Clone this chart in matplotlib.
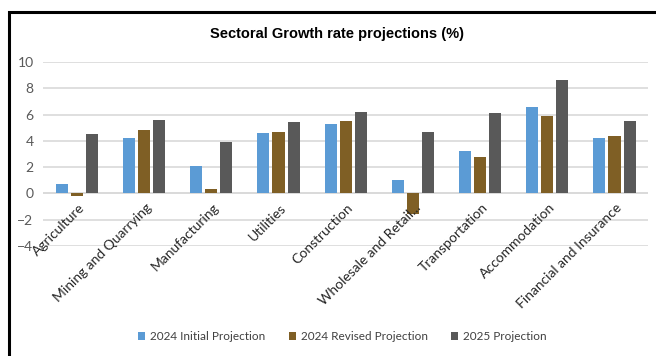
import matplotlib.pyplot as plt
import numpy as np
from matplotlib.patches import Rectangle

sectors = ["Agriculture", "Mining and Quarrying", "Manufacturing", "Utilities",
           "Construction", "Wholesale and Retail...", "Transportation",
           "Accommodation", "Financial and Insurance"]
initial_2024 = [0.7, 4.2, 2.1, 4.6, 5.3, 1.0, 3.2, 6.6, 4.2]
revised_2024 = [-0.2, 4.8, 0.3, 4.7, 5.5, -1.6, 2.8, 5.9, 4.4]
proj_2025 = [4.5, 5.6, 3.9, 5.4, 6.2, 4.7, 6.1, 8.6, 5.5]
series_names = ["2024 Initial Projection", "2024 Revised Projection", "2025 Projection"]
colors = ["#5B9BD5", "#7F5F25", "#595959"]

plt.rcParams["font.family"] = ["Lato", "DejaVu Sans"]

fig = plt.figure(figsize=(6.56, 3.56), dpi=100)
ax = fig.add_axes([0.066, 0.309, 0.922, 0.517])

x = np.arange(len(sectors))
w = 0.18
step = 0.225
for k, vals in enumerate([initial_2024, revised_2024, proj_2025]):
    ax.bar(x + (k - 1) * step, vals, width=w, color=colors[k],
           label=series_names[k], zorder=3)

ax.set_xlim(-0.5, len(sectors) - 0.5)
ax.set_ylim(-4, 10)
ax.set_yticks(range(-4, 11, 2))
ax.tick_params(axis="y", length=0, labelsize=10, labelcolor="#595959", pad=7)
ax.set_xticks([])
ax.grid(axis="y", color="#D9D9D9", linewidth=1.2, zorder=0)
ax.axhline(0, color="#D9D9D9", linewidth=1.2, zorder=1)
for s in ax.spines.values():
    s.set_visible(False)

for i, name in enumerate(sectors):
    ax.text(i + 0.02, -0.6, name, rotation=45, ha="right", va="top",
            rotation_mode="anchor", fontsize=10, color="#262626")

fig.text(0.513, 0.905, "Sectoral Growth rate projections (%)", ha="center",
         va="center", fontsize=10.5, fontweight="bold",
         family=["Liberation Sans", "DejaVu Sans"])

fig.legend(loc="center", bbox_to_anchor=(0.522, 0.055), ncol=3, frameon=False,
           handlelength=0.6, handleheight=0.6, columnspacing=2.0,
           handletextpad=0.4, labelcolor="#404040",
           prop={"family": ["Lato", "DejaVu Sans"], "size": 8.5})

# outer frame of the original screenshot
fig.patches.append(Rectangle((0.0135, -0.1), 1.1, 1.065, transform=fig.transFigure,
                             fill=False, edgecolor="black", linewidth=2.2))

fig.savefig("out.png", dpi=100)
